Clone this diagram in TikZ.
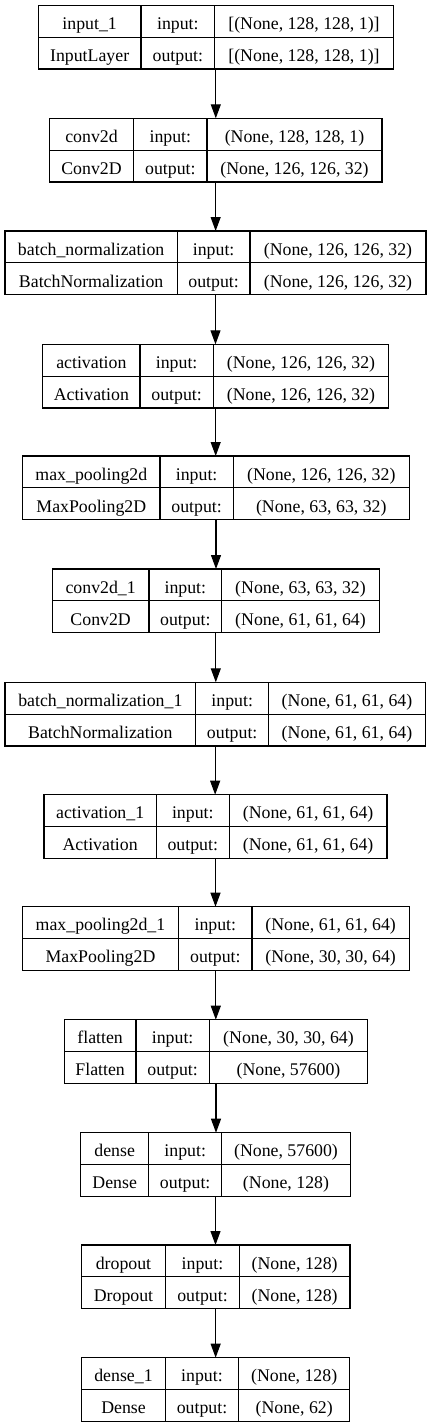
\documentclass[tikz,border=0pt]{standalone}
\usepackage{fontspec}
\setmainfont{Liberation Serif}
\usepackage{tikz}
\usetikzlibrary{arrows.meta}

\begin{document}
\begin{tikzpicture}[x=1pt, y=-1pt,
        layer/.style={draw, line width=1.1pt, inner sep=0pt, outer sep=0pt, minimum height=63.7pt},
        cell/.style={anchor=base, inner sep=0pt, font=\fontsize{17.8}{20}\selectfont},
        flow/.style={line width=1.1pt, -{Triangle[length=14pt, width=10pt]}}]
        \useasboundingbox (0,0) rectangle (432,1427);
        % Layers: number/top/left/first divider/second divider/right/name/class/input/output
        \foreach \i/\ty/\xa/\xb/\xc/\xd/\nm/\cl/\shin/\shout in {
            1/5.3/38.3/141/214.7/393.3/input\_1/InputLayer/{[(None, 128, 128, 1)]}/{[(None, 128, 128, 1)]},
            2/118.3/49.3/133.7/207/382/conv2d/Conv2D/{(None, 128, 128, 1)}/{(None, 126, 126, 32)},
            3/231/5/177.3/250/426/batch\_normalization/BatchNormalization/{(None, 126, 126, 32)}/{(None, 126, 126, 32)},
            4/344.3/42.7/140/213.3/388.7/activation/Activation/{(None, 126, 126, 32)}/{(None, 126, 126, 32)},
            5/456/22.7/160/233.3/409.3/max\_pooling2d/MaxPooling2D/{(None, 126, 126, 32)}/{(None, 63, 63, 32)},
            6/569/52.3/149/221.7/379.3/conv2d\_1/Conv2D/{(None, 63, 63, 32)}/{(None, 61, 61, 64)},
            7/682.3/5/195.7/268.7/425.3/batch\_normalization\_1/BatchNormalization/{(None, 61, 61, 64)}/{(None, 61, 61, 64)},
            8/794.7/44/156.3/229.3/387/activation\_1/Activation/{(None, 61, 61, 64)}/{(None, 61, 61, 64)},
            9/906.7/22.3/178.7/252/409.3/max\_pooling2d\_1/MaxPooling2D/{(None, 61, 61, 64)}/{(None, 30, 30, 64)},
            10/1019.7/64.3/136/209.3/367.7/flatten/Flatten/{(None, 30, 30, 64)}/{(None, 57600)},
            11/1132.7/80.7/148.7/221.7/350.3/dense/Dense/{(None, 57600)}/{(None, 128)},
            12/1245/81.3/165.7/239.3/350/dropout/Dropout/{(None, 128)}/{(None, 128)},
            13/1357.7/81.7/165.3/238.7/349.7/dense\_1/Dense/{(None, 128)}/{(None, 62)}}{
            \pgfmathsetmacro\cx{(\xa+\xd)/2}
            \pgfmathsetmacro\cy{\ty+31.85}
            \pgfmathsetmacro\yb{\ty+63.7}
            \pgfmathsetmacro\w{\xd-\xa}
            \pgfmathsetmacro\ra{\ty+24.1}
            \pgfmathsetmacro\rb{\ty+56.1}
            \node[layer, minimum width=\w pt] (L\i) at (\cx,\cy) {};
            % Grid lines
            \draw[line width=1.1pt] (L\i.west) -- (L\i.east);
            \draw[line width=1.1pt] (\xb,\ty) -- (\xb,\yb);
            \draw[line width=1.1pt] (\xc,\ty) -- (\xc,\yb);
            % Cell texts
            \node[cell] (N\i) at ({(\xa+\xb)/2},\ra) {\nm};
            \node[cell] (C\i) at ({(\xa+\xb)/2},\rb) {\cl};
            \node[cell] (IA\i) at ({(\xb+\xc)/2},\ra) {input:};
            \node[cell] (OA\i) at ({(\xb+\xc)/2},\rb) {output:};
            \node[cell] (IV\i) at ({(\xc+\xd)/2},\ra) {\shin};
            \node[cell] (OV\i) at ({(\xc+\xd)/2},\rb) {\shout};
        }
        % Arrows
        \foreach \i [count=\j from 2] in {1,...,12}
            \draw[flow] (L\i.south) -- (L\i.south |- L\j.north);
    \end{tikzpicture}
\end{document}
